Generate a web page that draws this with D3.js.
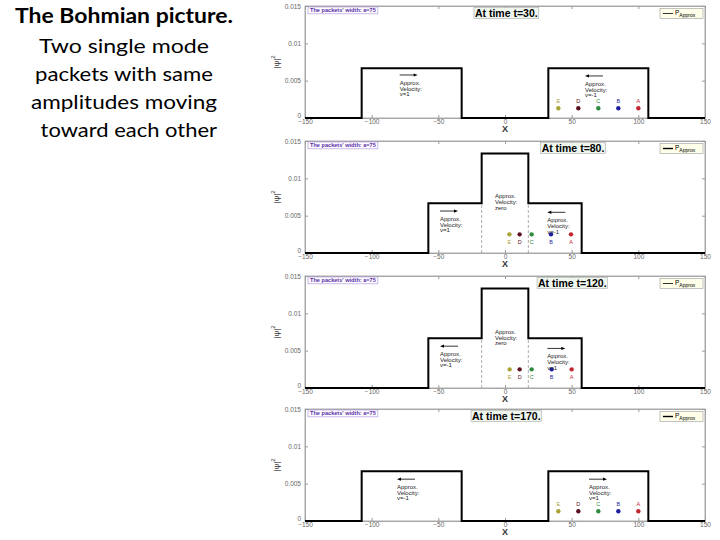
<!DOCTYPE html>
<html>
<head>
<meta charset="utf-8">
<script src="https://cdn.jsdelivr.net/npm/d3@7"></script>
<style>
  body { margin: 0; background: #fff; }
  svg { display: block; }
</style>
</head>
<body>
<svg id="chart" width="720" height="540"></svg>
<script>
// slide text on the left
var slideLines = ["The Bohmian picture.", "Two single mode", "packets with same", "amplitudes moving", " toward each other"]

// one entry per snapshot
var times = [30, 80, 120, 170]
var edges = [
    [-150, -107.5, -32.5, 32.5, 107.5, 150],
    [-150, -57.5, -17.5, 17.5, 57.5, 150],
    [-150, -57.5, -17.5, 17.5, 57.5, 150],
    [-150, -107.5, -32.5, 32.5, 107.5, 150]
]
var levels = [
    [0, 0.00667, 0, 0.00667, 0],
    [0, 0.00667, 0.01333, 0.00667, 0],
    [0, 0.00667, 0.01333, 0.00667, 0],
    [0, 0.00667, 0, 0.00667, 0]
]
var overlapEdges = [[], [-17.5, 17.5], [-17.5, 17.5], []]

// Bohmian particles
var particles = ["A", "B", "C", "D", "E"]
var particleColors = ["#c3262f", "#1d1f9e", "#2e8a3c", "#5b1020", "#aaa437"]
var particleX = [
    [100, 85, 70, 55, 40],
    [49.5, 34.5, 20, 11, 3.3],
    [50, 35, 20, 11, 3.5],
    [100, 85, 70, 55, 40]
]
var particleY = [0.0013, 0.0025, 0.0025, 0.0013]
var particleLabelY = [0.0023, 0.0015, 0.0015, 0.0023]

// velocity notes: x, y of arrow, direction (0 = no arrow), last line
var notes = [
    [{x: -79, y: 0.00576, dir: 1, v: "v=1"}, {x: 60, y: 0.00563, dir: -1, v: "v=-1"}],
    [{x: -48.75, y: 0.00562, dir: 1, v: "v=1"}, {x: -7.5, y: 0.00864, dir: 0, v: "zero"}, {x: 31.75, y: 0.00545, dir: -1, v: "v=-1"}],
    [{x: -48.75, y: 0.0056, dir: -1, v: "v=-1"}, {x: -7.5, y: 0.00857, dir: 0, v: "zero"}, {x: 31.75, y: 0.0053, dir: 1, v: "v=1"}],
    [{x: -81, y: 0.0056, dir: -1, v: "v=-1"}, {x: 63, y: 0.0056, dir: 1, v: "v=1"}]
]
var titleCenter = [1, 51, 50.5, 1]

var yTicks = [0, 0.005, 0.01, 0.015]
var xTicks = [-150, -100, -50, 0, 50, 100, 150]

var svg = d3.select('#chart')
svg.append('rect').attr('width', 720).attr('height', 540).attr('fill', '#fff')

// left side text
var leftText = svg.append('g')
    .attr('font-family', 'Lato, "Open Sans", sans-serif')
    .attr('fill', '#000')
    .attr('text-anchor', 'middle')
var lineBase = [23, 52.5, 80.5, 108.5, 137]
var lineWidth = [218, 170, 178, 186, 182]
leftText.selectAll('text')
    .data(slideLines)
    .join('text')
    .attr('x', function(d, i) { return i == 4 ? 126 : 124 })
    .attr('y', function(d, i) { return lineBase[i] })
    .attr('font-size', 20)
    .attr('font-weight', function(d, i) { return i == 0 ? 'bold' : 'normal' })
    .attr('textLength', function(d, i) { return lineWidth[i] })
    .attr('lengthAdjust', 'spacingAndGlyphs')
    .style('white-space', 'pre')
    .text(function(d) { return d })

var panelTop = [6, 141, 276, 409]
var panelH = 112
var x = d3.scaleLinear().domain([-150, 150]).range([305, 705])
var y = d3.scaleLinear().domain([0, 0.015]).range([panelH, 0])

var fmt = function(d) { return String(+d.toFixed(3)) }

times.forEach(function(t, i) {
    var g = svg.append('g')
        .attr('transform', 'translate(0,' + panelTop[i] + ')')
        .attr('font-family', '"Liberation Sans", Arial, sans-serif')

    // frame
    g.append('rect')
        .attr('x', x(-150)).attr('y', 0)
        .attr('width', x(150) - x(-150)).attr('height', panelH)
        .attr('fill', 'none').attr('stroke', '#9a9a9a').attr('stroke-width', 0.8)

    // axes with inward ticks
    var left = g.append('g').attr('transform', 'translate(' + x(-150) + ',0)')
        .call(d3.axisLeft(y).tickValues(yTicks).tickFormat(fmt).tickSizeInner(-3).tickSizeOuter(0).tickPadding(4))
    var bottom = g.append('g').attr('transform', 'translate(0,' + panelH + ')')
        .call(d3.axisBottom(x).tickValues(xTicks).tickFormat(d3.format('d')).tickSizeInner(-3).tickSizeOuter(0).tickPadding(1))
    var right = g.append('g').attr('transform', 'translate(' + x(150) + ',0)')
        .call(d3.axisRight(y).tickValues(yTicks).tickFormat('').tickSizeInner(-3).tickSizeOuter(0))
    var top = g.append('g')
        .call(d3.axisTop(x).tickValues(xTicks).tickFormat('').tickSizeInner(-3).tickSizeOuter(0))
    ;[left, bottom, right, top].forEach(function(a) {
        a.select('.domain').attr('stroke', '#9a9a9a').attr('stroke-width', 0.8)
        a.selectAll('.tick line').attr('stroke', '#9a9a9a')
        a.selectAll('.tick text').attr('font-size', 6.5).attr('fill', '#666')
            .attr('font-family', '"Liberation Sans", Arial, sans-serif')
    })
    // lift the "0" so it sits above the -150 label
    left.selectAll('.tick text').filter(function(d) { return d === 0 }).attr('dy', '-0.15em')

    // axis labels
    g.append('text')
        .attr('x', x(0)).attr('y', panelH + 13.5)
        .attr('text-anchor', 'middle')
        .attr('font-size', 9).attr('font-weight', 'bold').attr('fill', '#333')
        .text('X')
    var yl = g.append('text')
        .attr('transform', 'translate(279,' + (panelH / 2) + ') rotate(-90)')
        .attr('text-anchor', 'middle')
        .attr('font-size', 8).attr('fill', '#333')
    yl.append('tspan').text('|\u03C8|')
    yl.append('tspan').attr('dy', -4).attr('font-size', 6).text('2')

    // dashed lines where the packets overlap
    g.selectAll('.overlap')
        .data(overlapEdges[i])
        .join('line')
        .attr('class', 'overlap')
        .attr('x1', function(d) { return x(d) }).attr('x2', function(d) { return x(d) })
        .attr('y1', y(0)).attr('y2', y(levels[i][1]))
        .attr('stroke', '#999').attr('stroke-width', 0.8).attr('stroke-dasharray', '3,2')

    // density profile
    var pts = edges[i].map(function(e, j) {
        return [e, j < levels[i].length ? levels[i][j] : levels[i][levels[i].length - 1]]
    })
    var line = d3.line()
        .x(function(d) { return x(d[0]) })
        .y(function(d) { return y(d[1]) })
        .curve(d3.curveStepAfter)
    g.append('path')
        .attr('d', line(pts))
        .attr('fill', 'none').attr('stroke', '#000').attr('stroke-width', 2)

    // particles
    g.selectAll('.dot')
        .data(particles)
        .join('circle')
        .attr('class', 'dot')
        .attr('cx', function(d, j) { return x(particleX[i][j]) })
        .attr('cy', y(particleY[i]))
        .attr('r', 2.2)
        .attr('fill', function(d, j) { return particleColors[j] })
    g.selectAll('.plabel')
        .data(particles)
        .join('text')
        .attr('class', 'plabel')
        .attr('x', function(d, j) { return x(particleX[i][j]) })
        .attr('y', y(particleLabelY[i]) + 2)
        .attr('text-anchor', 'middle')
        .attr('font-size', 5.5)
        .attr('fill', function(d, j) { return particleColors[j] })
        .text(function(d) { return d })

    // velocity notes
    notes[i].forEach(function(n) {
        var ay = y(n.y)
        if (n.dir != 0) {
            var x0 = n.dir > 0 ? x(n.x) : x(n.x + 13.5)
            var x1 = n.dir > 0 ? x(n.x + 13.5) : x(n.x)
            g.append('line')
                .attr('x1', x0).attr('x2', x1 - 3 * n.dir)
                .attr('y1', ay).attr('y2', ay)
                .attr('stroke', '#000').attr('stroke-width', 0.8)
            g.append('path')
                .attr('d', 'M' + x1 + ',' + ay + 'L' + (x1 - 4 * n.dir) + ',' + (ay - 1.6) + 'L' + (x1 - 4 * n.dir) + ',' + (ay + 1.6) + 'Z')
                .attr('fill', '#000')
        }
        ;["Approx.", "Velocity:", n.v].forEach(function(s, k) {
            g.append('text')
                .attr('x', x(n.x)).attr('y', ay + 10 + k * 5.6)
                .attr('font-size', 6).attr('fill', '#222')
                .text(s)
        })
    })

    // packet width box
    var wb = g.append('g')
    var wt = wb.append('text')
        .attr('x', 310).attr('y', 5.8)
        .attr('font-size', 5.6).attr('font-weight', 'bold').attr('fill', '#5b2ca8')
        .text("The packets' width: a=75")
    var wbb = wt.node().getBBox()
    wb.insert('rect', 'text')
        .attr('x', wbb.x - 2).attr('y', 1).attr('width', wbb.width + 4).attr('height', 6.8)
        .attr('fill', '#fff').attr('stroke', '#b49be0').attr('stroke-width', 0.7)

    // time title
    var tb = g.append('g')
    var tt = tb.append('text')
        .attr('x', x(titleCenter[i])).attr('y', 10.5)
        .attr('text-anchor', 'middle')
        .attr('font-size', 10.5).attr('font-weight', 'bold').attr('fill', '#000')
        .text('At time t=' + t + '.')
    var tbb = tt.node().getBBox()
    tb.insert('rect', 'text')
        .attr('x', tbb.x - 1).attr('y', 1.5).attr('width', tbb.width + 2).attr('height', 11)
        .attr('fill', '#eef6ee').attr('stroke', '#aaa').attr('stroke-width', 0.6)

    // legend
    var lg = g.append('g')
    lg.append('rect')
        .attr('x', 660).attr('y', 2.5).attr('width', 43).attr('height', 10)
        .attr('fill', '#ffffe9').attr('stroke', '#999').attr('stroke-width', 0.6)
    lg.append('line')
        .attr('x1', 663).attr('x2', 673).attr('y1', 7.5).attr('y2', 7.5)
        .attr('stroke', '#000').attr('stroke-width', i == 1 || i == 3 ? 1.4 : 0.8)
    var lt = lg.append('text')
        .attr('x', 675).attr('y', 8.5)
        .attr('font-size', 6.5).attr('fill', '#000')
    lt.append('tspan').text('P')
    lt.append('tspan').attr('dy', 2).attr('font-size', 5).text('Approx')
})
</script>
</body>
</html>
